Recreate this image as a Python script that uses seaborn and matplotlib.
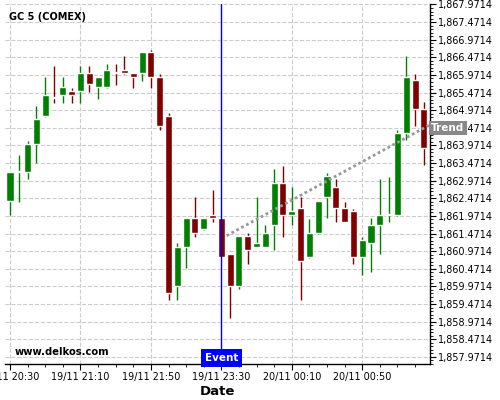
import numpy as np
import pandas as pd
import seaborn as sns
import matplotlib
matplotlib.use("Agg")
import matplotlib.pyplot as plt
from matplotlib.ticker import FixedLocator, FuncFormatter, MultipleLocator

# OHLC values (one candle per slot)
opens = [1862.40, 1863.22, 1863.21, 1864.01, 1864.80, 1865.34, 1865.40, 1865.51,
         1865.52, 1866.02, 1865.63, 1865.63, 1866.05, 1866.10, 1866.02, 1866.03,
         1866.61, 1865.90, 1864.80, 1859.99, 1861.10, 1861.91, 1861.61, 1861.99,
         1861.91, 1860.89, 1859.99, 1861.40, 1861.09, 1861.09, 1861.72, 1862.90,
         1862.00, 1862.19, 1860.81, 1861.49, 1862.51, 1862.79, 1862.19, 1862.12,
         1860.81, 1861.21, 1861.72, 1862.00, 1861.99, 1864.33, 1865.82, 1865.00]
highs = [1863.21, 1863.69, 1864.09, 1865.10, 1865.90, 1866.22, 1865.90, 1865.61,
         1866.22, 1866.22, 1865.90, 1866.29, 1866.29, 1866.50, 1866.02, 1866.61,
         1866.68, 1866.01, 1864.89, 1861.19, 1861.91, 1862.50, 1861.91, 1862.70,
         1861.91, 1860.89, 1861.40, 1861.48, 1862.50, 1861.70, 1863.29, 1863.40,
         1862.78, 1862.50, 1861.89, 1862.39, 1863.20, 1863.01, 1862.38, 1862.18,
         1861.38, 1861.90, 1863.01, 1863.09, 1864.40, 1866.50, 1866.01, 1865.20]
lows = [1861.99, 1862.38, 1863.01, 1863.48, 1864.78, 1865.19, 1865.19, 1865.19,
        1865.19, 1865.50, 1865.30, 1865.60, 1865.70, 1866.00, 1865.61, 1865.81,
        1865.61, 1864.40, 1859.59, 1859.59, 1860.48, 1861.38, 1861.57, 1861.79,
        1860.81, 1859.07, 1859.89, 1860.60, 1861.09, 1861.08, 1861.00, 1861.38,
        1861.71, 1859.58, 1860.79, 1861.47, 1861.90, 1861.79, 1861.79, 1860.60,
        1860.29, 1860.39, 1860.88, 1861.79, 1861.97, 1864.12, 1864.52, 1863.41]
closes = [1863.21, 1863.23, 1864.01, 1864.71, 1865.39, 1865.32, 1865.62, 1865.40,
          1866.02, 1865.71, 1865.90, 1866.10, 1866.03, 1866.02, 1865.91, 1866.61,
          1865.91, 1864.52, 1859.79, 1861.09, 1861.91, 1861.49, 1861.91, 1861.92,
          1860.81, 1859.99, 1861.40, 1861.01, 1861.20, 1861.48, 1862.90, 1862.00,
          1862.11, 1860.70, 1861.48, 1862.39, 1863.10, 1862.20, 1861.80, 1860.81,
          1861.29, 1861.71, 1861.99, 1862.02, 1864.32, 1865.90, 1865.01, 1863.90]

tick_pos = [0, 8, 16, 24, 32, 40]
tick_labels = ["19/11 20:30", "19/11 21:10", "19/11 21:50",
               "19/11 23:30", "20/11 00:10", "20/11 00:50"]
event_pos = 24
trend_x = [24.6, 48.0]
trend_y = [1861.41, 1864.60]

df = pd.DataFrame({"open": opens, "high": highs, "low": lows, "close": closes})
df["idx"] = np.arange(len(df))
df["up"] = df["close"] >= df["open"]

sns.set_style("whitegrid", {"grid.linestyle": "--", "grid.color": "#cccccc"})
plt.rcParams["font.family"] = ["DejaVu Sans"]

fig = plt.figure(figsize=(5, 4), dpi=100)
ax = fig.add_axes([0.01, 0.09, 0.85, 0.90])

green = "#008000"
red = "#800000"
colors = np.where(df["up"], green, red)

# wicks and bodies
ax.vlines(df["idx"], df["low"], df["high"], color=colors, linewidth=1, zorder=3)
body_lo = np.minimum(df["open"], df["close"])
body_h = np.maximum(np.abs(df["close"] - df["open"]), 0.03)
ax.bar(df["idx"], body_h, bottom=body_lo, width=0.8, color=colors, zorder=4)

# trend line
sns.lineplot(x=trend_x, y=trend_y, ax=ax, color="#999999", linestyle=(0, (1, 1)),
             linewidth=2, zorder=5)

# event marker
ax.axvline(event_pos, color="#0000ee", linewidth=1, zorder=6)

ax.set_xlim(-0.57, 47.7)
ax.set_ylim(1857.77, 1867.985)

ax.yaxis.tick_right()
ax.yaxis.set_major_locator(FixedLocator(1857.9714 + 0.5 * np.arange(21)))
ax.yaxis.set_minor_locator(FixedLocator(1857.9714 + 0.1 * np.arange(-2, 101)))
ax.yaxis.set_major_formatter(FuncFormatter(lambda v, p: f"{v:,.4f}"))
ax.xaxis.set_major_locator(FixedLocator(tick_pos))
ax.xaxis.set_minor_locator(MultipleLocator(2))
ax.set_xticklabels(tick_labels)

ax.tick_params(axis="both", which="major", labelsize=6.9, length=4, width=0.8,
               color="black", labelcolor="black", pad=2)
ax.tick_params(axis="y", which="minor", length=2, width=0.6, color="black", right=True)
ax.tick_params(axis="x", which="minor", length=2, width=0.6, color="black", bottom=True)
ax.tick_params(axis="x", which="major", bottom=True)
ax.tick_params(axis="y", which="major", right=True)

for side in ["left", "top"]:
    ax.spines[side].set_visible(False)
for side in ["right", "bottom"]:
    ax.spines[side].set_visible(True)
    ax.spines[side].set_color("black")
    ax.spines[side].set_linewidth(1)

ax.grid(True, which="major", linestyle="--", color="#cccccc", linewidth=0.8)
ax.set_axisbelow(True)

ax.set_xlabel("Date", fontsize=9.5, fontweight="bold", labelpad=2, color="black")
ax.set_ylabel("")

ax.text(0.01, 0.978, "GC 5 (COMEX)", transform=ax.transAxes, fontsize=7,
        fontweight="bold", va="top", ha="left", color="black")
ax.text(0.023, 0.02, "www.delkos.com", transform=ax.transAxes, fontsize=7.2,
        fontweight="bold", va="bottom", ha="left", color="black")

ax.text(event_pos, 1857.80, "Event", fontsize=7.5, fontweight="bold", color="white",
        ha="center", va="bottom", zorder=10,
        bbox=dict(boxstyle="square,pad=0.35", facecolor="#0000ff", edgecolor="none"))
ax.text(1.003, 1864.47, "Trend", transform=ax.get_yaxis_transform(), fontsize=7.5,
        fontweight="bold", color="white", ha="left", va="center", zorder=10,
        clip_on=False,
        bbox=dict(boxstyle="square,pad=0.2", facecolor="#888888", edgecolor="none"))

fig.savefig("out.png", dpi=100)
